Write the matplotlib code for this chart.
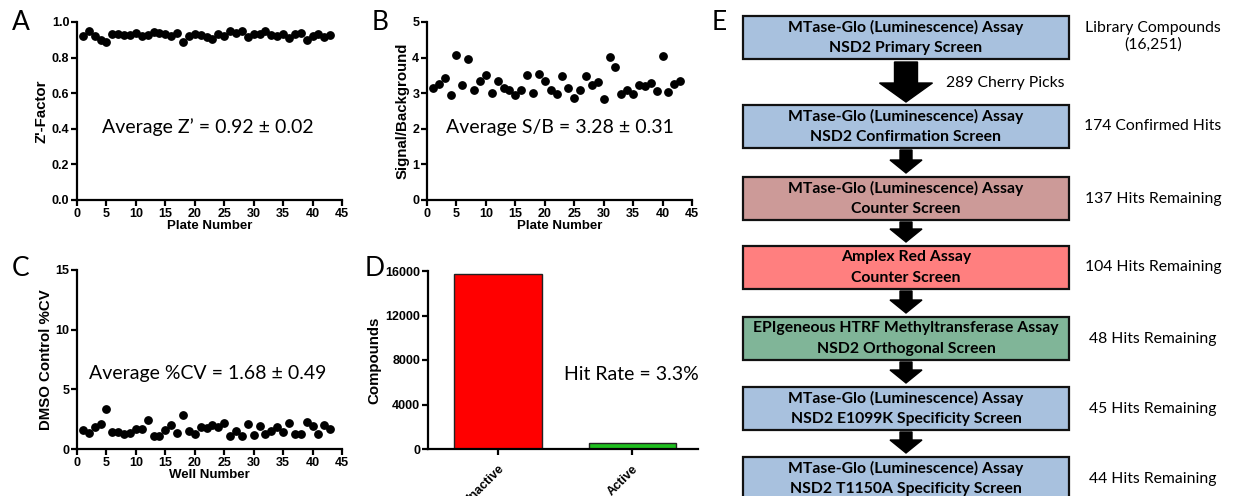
import matplotlib
matplotlib.use('Agg')
import matplotlib.pyplot as plt
import matplotlib.patches as mpatches
import numpy as np

# 数据
plates = list(range(1, 44))
z_factor = [0.92, 0.95, 0.92, 0.90, 0.89, 0.93, 0.93, 0.925, 0.925, 0.94,
            0.92, 0.925, 0.945, 0.94, 0.93, 0.92, 0.94, 0.885, 0.92, 0.935,
            0.925, 0.915, 0.905, 0.93, 0.92, 0.95, 0.94, 0.95, 0.915, 0.93,
            0.935, 0.95, 0.925, 0.92, 0.93, 0.91, 0.93, 0.94, 0.90, 0.92,
            0.935, 0.915, 0.925]
signal_bg = [3.15, 3.25, 3.44, 2.96, 4.06, 3.22, 3.96, 3.08, 3.33, 3.51,
             3.01, 3.34, 3.15, 3.10, 2.94, 3.08, 3.51, 3.01, 3.55, 3.34,
             3.10, 2.98, 3.47, 3.15, 2.86, 3.10, 3.48, 3.22, 3.31, 2.84,
             4.02, 3.74, 2.98, 3.08, 2.98, 3.22, 3.19, 3.28, 3.06, 4.04,
             3.03, 3.27, 3.34]
wells = list(range(1, 44))
dmso_cv = [1.61, 1.33, 1.83, 2.11, 3.33, 1.42, 1.42, 1.25, 1.33, 1.69,
           1.69, 2.44, 1.11, 1.11, 1.61, 2.03, 1.33, 2.86, 1.47, 1.25,
           1.81, 1.75, 1.97, 1.83, 2.14, 1.06, 1.53, 1.06, 2.08, 1.14,
           1.89, 1.25, 1.47, 1.86, 1.39, 2.14, 1.28, 1.25, 2.25, 1.89,
           1.25, 1.97, 1.69]
hit_cats = ['Inactive', 'Active']
hit_counts = [15715, 536]
hit_colors = ['#FF0000', '#1FBF1F']

flow_line1 = ['MTase-Glo (Luminescence) Assay', 'MTase-Glo (Luminescence) Assay',
              'MTase-Glo (Luminescence) Assay', 'Amplex Red Assay',
              'EPIgeneous HTRF Methyltransferase Assay',
              'MTase-Glo (Luminescence) Assay', 'MTase-Glo (Luminescence) Assay']
flow_line2 = ['NSD2 Primary Screen', 'NSD2 Confirmation Screen', 'Counter Screen',
              'Counter Screen', 'NSD2 Orthogonal Screen',
              'NSD2 E1099K Specificity Screen', 'NSD2 T1150A Specificity Screen']
flow_colors = ['#A8C1DE', '#A8C1DE', '#CC9A98', '#FF7F7F', '#80B598',
               '#A8C1DE', '#A8C1DE']
flow_notes = ['Library Compounds\n(16,251)', '174 Confirmed Hits',
              '137 Hits Remaining', '104 Hits Remaining', '48 Hits Remaining',
              '45 Hits Remaining', '44 Hits Remaining']
cherry_note = '289 Cherry Picks'

W, H = 1242, 496
fig = plt.figure(figsize=(W / 100, H / 100), dpi=100)

CAL = 'Lato'
tick_font = {'family': 'Liberation Sans', 'weight': 'bold', 'size': 9}
xlab_font = {'family': 'Liberation Sans', 'weight': 'bold', 'size': 9.5}
ylab_font = {'family': 'Liberation Sans', 'weight': 'bold', 'size': 10.8}


def px_axes(l, t, r, b):
    return fig.add_axes([l / W, 1 - b / H, (r - l) / W, (b - t) / H])


def style(ax):
    for s in ['top', 'right']:
        ax.spines[s].set_visible(False)
    for s in ['left', 'bottom']:
        ax.spines[s].set_linewidth(1.6)
    ax.tick_params(width=1.6, length=4, direction='out', pad=1.5)
    for lab in ax.get_xticklabels() + ax.get_yticklabels():
        lab.set_fontproperties(matplotlib.font_manager.FontProperties(**tick_font))


def scatter_panel(ax, x, y, ylim, yticks, yfmt, xlabel, ylabel):
    ax.plot(x, y, 'o', color='black', ms=5.3, clip_on=False, zorder=3)
    ax.set_xlim(0, 45)
    ax.set_ylim(*ylim)
    ax.set_xticks(np.arange(0, 46, 5))
    ax.set_yticks(yticks)
    ax.set_yticklabels([yfmt.format(v) for v in yticks])
    ax.set_xlabel(xlabel, fontdict=xlab_font, labelpad=0.5)
    ax.set_ylabel(ylabel, fontdict=ylab_font, labelpad=2)
    style(ax)


axA = px_axes(77, 22, 342, 200)
scatter_panel(axA, plates, z_factor, (0, 1.0), [0, 0.2, 0.4, 0.6, 0.8, 1.0],
              '{:.1f}', 'Plate Number', 'Z\'-Factor')
axA.text(0.495, 0.41, 'Average Z\u2019 = 0.92 \u00b1 0.02', transform=axA.transAxes,
         ha='center', va='center', family=CAL, fontsize=14)

axB = px_axes(427, 22, 692, 200)
scatter_panel(axB, plates, signal_bg, (0, 5), [0, 1, 2, 3, 4, 5], '{:d}',
              'Plate Number', 'Signal/Background')
axB.text(0.5, 0.41, 'Average S/B = 3.28 \u00b1 0.31', transform=axB.transAxes,
         ha='center', va='center', family=CAL, fontsize=14)

axC = px_axes(77, 270, 342, 449)
scatter_panel(axC, wells, dmso_cv, (0, 15), [0, 5, 10, 15], '{:d}',
              'Well Number', 'DMSO Control %CV')
axC.text(0.495, 0.42, 'Average %CV = 1.68 \u00b1 0.49', transform=axC.transAxes,
         ha='center', va='center', family=CAL, fontsize=14)

axD = px_axes(428, 271, 698, 449)
axD.bar([0, 1], hit_counts, width=0.65, color=hit_colors, edgecolor='#222222',
        linewidth=1.0)
axD.set_xlim(-0.52, 1.49)
axD.set_ylim(0, 16000)
axD.set_yticks([0, 4000, 8000, 12000, 16000])
axD.set_xticks([0, 1])
axD.set_xticklabels(hit_cats)
axD.set_ylabel('Compounds', fontdict=ylab_font, labelpad=3)
style(axD)
for lab in axD.get_xticklabels():
    lab.set_rotation(45)
    lab.set_ha('right')
    lab.set_rotation_mode('anchor')
axD.tick_params(axis='x', pad=6)
axD.text(0.752, 0.42, 'Hit Rate = 3.3%', transform=axD.transAxes,
         ha='center', va='center', family=CAL, fontsize=14)

# 字母标签
for lab, x, y in [('A', 12, 22), ('B', 372, 22), ('C', 12, 268), ('D', 365, 269),
                  ('E', 712, 22)]:
    fig.text(x / W, 1 - y / H, lab, family=CAL, fontsize=19, ha='left', va='center')

# 流程图
axE = fig.add_axes([0, 0, 1, 1], facecolor='none')
axE.set_xlim(0, W)
axE.set_ylim(H, 0)
axE.axis('off')
box_top = [16, 105, 177, 246, 317, 387, 457]
box_h = 43
bx0, bx1 = 743, 1069
cx = (bx0 + bx1) / 2
note_x = 1153
for i in range(7):
    t = box_top[i]
    axE.add_patch(mpatches.Rectangle((bx0, t), bx1 - bx0, box_h,
                                     facecolor=flow_colors[i], edgecolor='#111111',
                                     linewidth=1.6))
    axE.text(cx, t + 11, flow_line1[i], ha='center', va='center', family=CAL,
             fontweight='bold', fontsize=11.3)
    axE.text(cx, t + 32, flow_line2[i], ha='center', va='center', family=CAL,
             fontweight='bold', fontsize=11.3)
    if i == 0:
        axE.text(note_x, t + 20, flow_notes[i], ha='center', va='center', family=CAL,
                 fontsize=11.3, linespacing=1.2)
    else:
        axE.text(note_x, t + box_h / 2, flow_notes[i], ha='center', va='center',
                 family=CAL, fontsize=11.3)

arrow_x = 906
# 大箭头
axE.add_patch(mpatches.FancyArrow(arrow_x, 62, 0, 40, width=23, head_width=53,
                                  head_length=19, length_includes_head=True,
                                  color='black'))
axE.text(1005, 83, cherry_note, ha='center', va='center', family=CAL, fontsize=11.3)
for i in range(1, 6):
    y0 = box_top[i] + box_h + 2
    y1 = box_top[i + 1] - 4
    axE.add_patch(mpatches.FancyArrow(arrow_x, y0, 0, y1 - y0, width=12,
                                      head_width=32, head_length=13,
                                      length_includes_head=True, color='black'))

fig.savefig('out.png', dpi=100)
